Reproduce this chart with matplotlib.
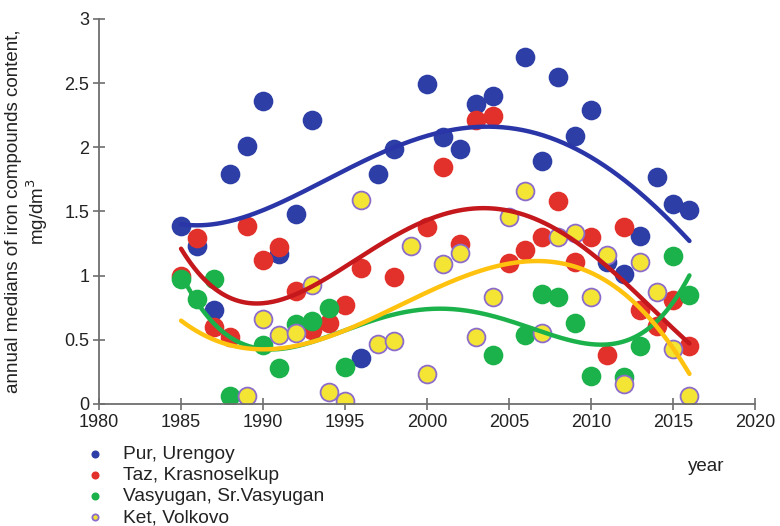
import numpy as np
import matplotlib
matplotlib.use("Agg")
import matplotlib.pyplot as plt

plt.rcParams['font.family'] = ['Liberation Sans', 'DejaVu Sans']

# Annual medians of iron compounds content, mg/dm3
pur_years = [1985, 1986, 1987, 1988, 1989, 1990, 1991, 1992, 1993, 1996, 1997, 1998,
             2000, 2001, 2002, 2003, 2004, 2006, 2007, 2008, 2009, 2010, 2011, 2012,
             2013, 2014, 2015, 2016]
pur_vals = [1.39, 1.23, 0.73, 1.79, 2.01, 2.36, 1.17, 1.48, 2.21, 0.355, 1.79, 1.99,
            2.49, 2.08, 1.99, 2.34, 2.40, 2.70, 1.89, 2.55, 2.09, 2.29, 1.11, 1.01,
            1.31, 1.77, 1.56, 1.51]

taz_years = [1985, 1986, 1987, 1988, 1989, 1990, 1991, 1992, 1993, 1994, 1995, 1996,
             1998, 2000, 2001, 2002, 2003, 2004, 2005, 2006, 2007, 2008, 2009, 2010,
             2011, 2012, 2013, 2014, 2015, 2016]
taz_vals = [1.00, 1.29, 0.60, 0.52, 1.385, 1.12, 1.22, 0.88, 0.58, 0.63, 0.77, 1.06,
            0.99, 1.38, 1.85, 1.25, 2.21, 2.24, 1.10, 1.20, 1.30, 1.58, 1.11, 1.30,
            0.38, 1.38, 0.73, 0.61, 0.81, 0.45]

vas_years = [1985, 1986, 1987, 1988, 1990, 1991, 1992, 1993, 1994, 1995, 2004, 2006,
             2007, 2008, 2009, 2010, 2012, 2013, 2015, 2016]
vas_vals = [0.97, 0.82, 0.97, 0.06, 0.46, 0.28, 0.62, 0.65, 0.75, 0.285, 0.38, 0.54,
            0.86, 0.835, 0.63, 0.22, 0.21, 0.45, 1.15, 0.85]

ket_years = [1989, 1990, 1991, 1992, 1993, 1994, 1995, 1996, 1997, 1998, 1999, 2000,
             2001, 2002, 2003, 2004, 2005, 2006, 2007, 2008, 2009, 2010, 2011, 2012,
             2013, 2014, 2015, 2016]
ket_vals = [0.06, 0.665, 0.54, 0.55, 0.925, 0.09, 0.02, 1.59, 0.47, 0.49, 1.23, 0.23,
            1.09, 1.18, 0.52, 0.83, 1.46, 1.66, 0.555, 1.30, 1.335, 0.835, 1.16, 0.155,
            1.11, 0.875, 0.425, 0.06]

series = [
    ("Pur, Urengoy", pur_years, pur_vals, "#2D3FA6", "#2D3FA6", "#2A36A8", 4),
    ("Taz, Krasnoselkup", taz_years, taz_vals, "#E2312B", "#E2312B", "#C4181C", 4),
    ("Vasyugan, Sr.Vasyugan", vas_years, vas_vals, "#1CB24B", "#1CB24B", "#1CB24B", 4),
    ("Ket, Volkovo", ket_years, ket_vals, "#F4E535", "#8C6CCB", "#FFC20E", 3),
]

fig = plt.figure(figsize=(7.8, 5.26), dpi=100)
ax = fig.add_axes([0.127, 0.232, 0.841, 0.732])

for name, yrs, vals, fc, ec, lc, deg in series:
    ax.scatter(yrs, vals, s=165, c=fc, edgecolors=ec, linewidths=1.3, zorder=2,
               label=name)

# polynomial trend lines
xs = np.linspace(1985, 2016, 300)
for name, yrs, vals, fc, ec, lc, deg in series:
    coef = np.polyfit(np.array(yrs) - 2000.0, vals, deg)
    ax.plot(xs, np.polyval(coef, xs - 2000.0), color=lc, lw=3.2, zorder=3,
            solid_capstyle='round')

ax.set_xlim(1980, 2020)
ax.set_ylim(0, 3)
ax.set_xticks(range(1980, 2021, 5))
ax.set_yticks([0, 0.5, 1, 1.5, 2, 2.5, 3])
ax.set_yticklabels(["0", "0.5", "1", "1.5", "2", "2.5", "3"])
for s in ["top", "right"]:
    ax.spines[s].set_visible(False)
for s in ["left", "bottom"]:
    ax.spines[s].set_color("#6E6E6E")
    ax.spines[s].set_linewidth(1.3)
ax.tick_params(axis="both", direction="inout", length=8, width=1.2,
               color="#6E6E6E", labelsize=13, labelcolor="#222222", pad=3)

ax.set_ylabel("annual medians of iron compounds content,\nmg/dm$^3$",
              fontsize=13.5, color="#222222", linespacing=1.08)
ax.yaxis.set_label_coords(-0.0755, 0.5)

fig.text(0.905, 0.114, "year", fontsize=13.5, color="#222222", ha="center", va="center")

leg = ax.legend(loc="upper left", bbox_to_anchor=(-0.0244, -0.109), frameon=False,
                fontsize=13.8, markerscale=0.35, handletextpad=0.9,
                labelspacing=0.19, borderaxespad=0, borderpad=0, handlelength=1.2)
for t in leg.get_texts():
    t.set_color("#222222")

fig.savefig("out.png", dpi=100)
